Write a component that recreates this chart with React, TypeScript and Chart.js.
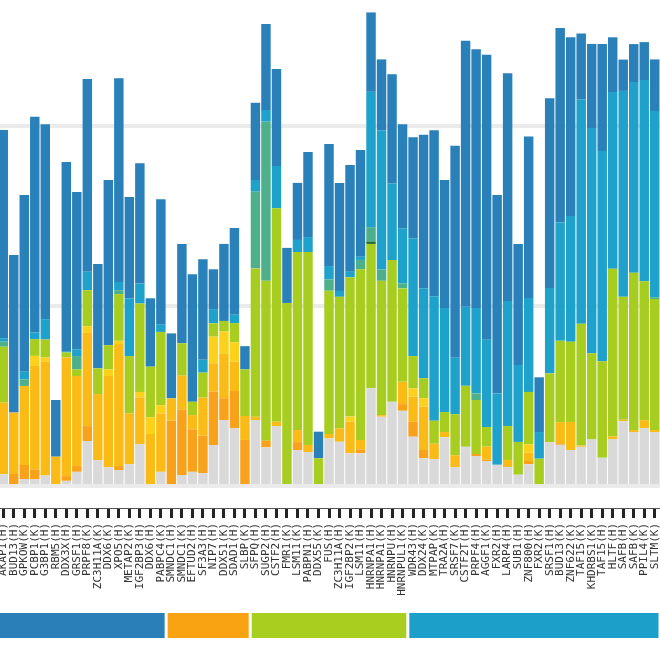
import React, { useEffect, useRef } from 'react';
import { Chart, registerables } from 'chart.js';

Chart.register(...registerables);

const labels = [
  'AKAP1(H)', 'BUD13(H)', 'GPKOW(K)', 'PCBP1(K)', 'G3BP1(H)', 'RBM5(H)', 'DDX3X(H)', 'GRSF1(H)', 'PRPF8(K)', 'ZC3H11A(K)',
  'DDX6(K)', 'XPO5(H)', 'METAP2(K)', 'IGF2BP3(H)', 'DDX6(H)', 'PABPC4(K)', 'SMNDC1(H)', 'SMNDC1(K)', 'EFTUD2(H)', 'SF3A3(H)',
  'NIP7(H)', 'DDX51(K)', 'SDAD1(H)', 'SLBP(K)', 'SFPQ(H)', 'SUGP2(H)', 'CSTF2(H)', 'FMR1(K)', 'LSM11(K)', 'PABPN1(H)',
  'DDX55(K)', 'FUS(H)', 'ZC3H11A(H)', 'IGF2BP2(K)', 'LSM11(H)', 'HNRNPA1(H)', 'HNRNPA1(K)', 'HNRNPU(H)', 'HNRNPUL1(K)', 'WDR43(H)',
  'DDX24(K)', 'MTPAP(K)', 'TRA2A(H)', 'SRSF7(K)', 'CSTF2T(H)', 'PRPF4(H)', 'AGGF1(K)', 'FXR2(H)', 'LARP4(H)', 'SUB1(H)',
  'ZNF800(H)', 'FXR2(K)', 'SRSF1(H)', 'BUD13(K)', 'ZNF622(K)', 'TAF15(K)', 'KHDRBS1(K)', 'TAF15(H)', 'HLTF(H)', 'SAFB(H)',
  'SAFB(K)', 'PPIL4(K)', 'SLTM(K)',
];

const grayVals = [6.5, 0, 3.9, 3.7, 5.9, 0, 2.9, 7.9, 25, 14.4, 10.4, 8.9, 12.2, 23.3, 0, 7.9, 0, 6.1, 7.9, 7.1,
  22.8, 36.7, 32.1, 0, 36.7, 21.5, 33.3, 0, 20, 18.9, 0, 26.5, 24.6, 18.2, 18.2, 54.3, 38.5, 46.8, 41.8, 27.4,
  15.4, 15, 27.1, 10.4, 21.8, 16.7, 13.9, 11.8, 10.6, 6.3, 12.1, 0, 24.4, 22.9, 20, 21.8, 25.9, 15.7, 26.1, 36.1,
  30, 32.2, 30];
const orangeVals = [0, 6.7, 7.8, 5.6, 0, 0, 2.6, 3.2, 8.3, 0, 0, 2.2, 0, 0, 0, 0, 36.3, 36.5, 23.6, 20.9,
  29.6, 12.1, 20.7, 25.6, 0, 3.7, 0, 0, 4.4, 0, 0, 0, 0, 0, 2.2, 0, 0, 0, 3.7, 8.3,
  4.6, 0, 0, 0, 0, 1.1, 0.8, 0, 0, 0, 1.8, 0, 0, 0.9, 0, 0, 0, 0, 0, 0,
  0, 0, 0];
const amberVals = [39.8, 34.1, 43.9, 57.4, 63.1, 16.3, 65.9, 50, 51.8, 36.7, 50.7, 67.8, 28.2, 25.9, 28.9, 32.4, 12.4, 18.7, 7.9, 21.1,
  15.8, 24.6, 16.3, 13.3, 1.8, 0, 2.4, 0, 6.7, 3.9, 0, 2.4, 7.4, 17.6, 5.2, 0, 0.9, 0, 12.4, 13.9,
  24.1, 8.5, 2.9, 6.7, 0, 0, 7.2, 0, 3.9, 0, 4.7, 0, 0, 11.7, 15.6, 0.7, 0, 0, 1.5, 0.7,
  1.1, 4.4, 1.1];
const yellowVals = [0, 0, 0, 5.6, 2.4, 0, 0, 0, 3.7, 0, 3.7, 1.8, 0, 3.1, 9.3, 4.6, 0, 0, 0, 0,
  14.8, 12.4, 10.8, 0, 0, 0, 0, 0, 0, 0, 0, 0, 0, 2.8, 0, 0, 0, 0, 0, 4.7,
  4.7, 0, 0, 0, 0, 0, 0, 0, 0, 0, 4.6, 0, 0, 0, 0, 0, 0, 0, 0, 0,
  0, 0, 0];
const limeVals = [31.1, 0, 0, 9.3, 10, 0, 2.8, 3.7, 20, 14.3, 13.5, 25.9, 31.8, 49.1, 28.1, 40.7, 0, 18, 7.4, 13.9,
  7.4, 5.9, 10.6, 25.9, 82.4, 88.9, 118.6, 101.7, 98.9, 107.2, 15.4, 79.6, 73.1, 77.4, 94.8, 80.2, 74.6, 78.7, 51.9, 17.9,
  11.1, 12.8, 11.1, 22.8, 33.9, 30, 10.9, 0, 18.9, 18.2, 29.1, 15.2, 38.2, 45.2, 44.6, 67.6, 47.8, 53.6, 93.1, 68.3,
  87.4, 77.2, 72.8];
const darkGreenVals = [0, 0, 0, 0, 0, 0, 0, 0, 0, 0, 0, 0, 0, 0, 0, 0, 0, 0, 0, 0,
  0, 0, 0, 0, 0, 0, 0, 0, 0, 0, 0, 0, 0, 0, 0, 1.3, 0, 0, 0, 0,
  0, 0, 0, 0, 0, 0, 0, 0, 0, 0, 0, 0, 0, 0, 0, 0, 0, 0, 0, 0,
  0, 0, 0];
const tealVals = [2.8, 0, 3.7, 0, 0, 0, 0, 7.4, 0, 0, 0, 2.2, 0, 0, 0, 0, 0, 0, 0, 0,
  0, 0, 0, 0, 42.6, 88.3, 0, 0, 0, 0, 0, 6.3, 0, 0, 5.2, 8, 6.3, 0, 2.8, 0,
  0, 0, 0, 0, 0, 3.7, 0, 0, 0, 0, 0, 0, 0, 0, 0, 0, 0, 0, 0, 0,
  0, 0, 0.9];
const cyanVals = [1.9, 0, 4.2, 3.7, 11.3, 0, 0.4, 3.7, 10.2, 0, 0, 4.6, 32.1, 11.1, 0, 4.3, 0, 0, 0, 7.1,
  7.9, 0, 4.6, 0, 6.5, 6.5, 23.5, 0, 6.7, 8.3, 0, 7.4, 3.3, 3.1, 1.8, 75.2, 77.4, 42.6, 30.6, 65.4,
  50, 69.1, 57.8, 31.3, 43.9, 47.4, 48.5, 39.7, 69.4, 42.8, 52.1, 14.8, 47.4, 65.7, 69.8, 124.6, 125.2, 116.8, 98.2, 114.4,
  105.9, 111.7, 103.5];
const blueVals = [115.7, 87.6, 98.2, 119.8, 108.3, 31.5, 105.4, 87.4, 107.1, 57.9, 91.7, 113.2, 56.3, 66.8, 38, 69.4, 36.1, 55.2, 70.9, 55.9,
  22.1, 42.8, 48.3, 12.9, 42.9, 47.8, 53.9, 30.6, 31.7, 47.2, 14.8, 67.8, 60, 59.3, 59.3, 44.1, 39.3, 60.7, 57.8, 56.1,
  85.2, 92.2, 71.1, 117.8, 147.8, 143.7, 158.3, 110.2, 126.5, 67.2, 89.8, 30.4, 105.4, 108, 99.3, 36.7, 46.7, 59.4, 30.4, 17.4,
  21.1, 21.1, 28.7];

const yTicks = [0, 100, 200];

// groups shown in the coloured band under the labels (first / last bar index)
const groupStart = [0, 16, 24, 39];
const groupEnd = [15, 23, 38, 62];
const groupColors = ['#2b7fb8', '#f9a312', '#a8cf1f', '#1ca0ca'];

const series = [
  { label: 'gray', data: grayVals, color: '#d9d9d9' },
  { label: 'orange', data: orangeVals, color: '#f8a11b' },
  { label: 'amber', data: amberVals, color: '#fbbb16' },
  { label: 'yellow', data: yellowVals, color: '#fbd11c' },
  { label: 'lime', data: limeVals, color: '#a6cd1f' },
  { label: 'darkgreen', data: darkGreenVals, color: '#1f6e2e' },
  { label: 'teal', data: tealVals, color: '#4db08b' },
  { label: 'cyan', data: cyanVals, color: '#1ea1ca' },
  { label: 'blue', data: blueVals, color: '#2a80b9' },
];

const bandPlugin = {
  id: 'groupBand',
  afterDraw(chart: any) {
    const { ctx, chartArea, scales } = chart;
    const x = scales.x;
    const half = (x.getPixelForValue(1) - x.getPixelForValue(0)) / 2;
    ctx.save();
    groupStart.forEach((s, k) => {
      const x1 = x.getPixelForValue(s) - half + 1.5;
      const x2 = x.getPixelForValue(groupEnd[k]) + half - 1.5;
      ctx.fillStyle = groupColors[k];
      ctx.fillRect(x1, chartArea.bottom + 105, x2 - x1, 25);
    });
    ctx.restore();
  },
};

const App = () => {
  const canvasRef = useRef<HTMLCanvasElement>(null);

  useEffect(() => {
    const ctx = canvasRef.current?.getContext('2d');
    if (!ctx) return;
    const chart = new Chart(ctx, {
      type: 'bar',
      data: {
        labels,
        datasets: series.map((s) => ({
          label: s.label,
          data: s.data,
          backgroundColor: s.color,
          borderWidth: 0,
          barPercentage: 0.9,
          categoryPercentage: 1,
        })),
      },
      options: {
        responsive: true,
        maintainAspectRatio: false,
        animation: false,
        layout: { padding: 0 },
        plugins: { legend: { display: false }, tooltip: { enabled: false } },
        scales: {
          x: {
            stacked: true,
            offset: true,
            grid: {
              display: true,
              drawOnChartArea: false,
              drawTicks: true,
              tickLength: 10,
              tickWidth: 3,
              tickColor: '#222',
              offset: false,
            },
            border: { display: true, color: '#555', width: 1 },
            ticks: {
              autoSkip: false,
              minRotation: 90,
              maxRotation: 90,
              padding: 5,
              color: '#333',
              font: { family: 'DejaVu Sans Mono', size: 11 },
            },
            afterFit: (scale: any) => {
              scale.height = 152;
              scale.paddingLeft = 0;
              scale.paddingRight = 0;
            },
          },
          y: {
            stacked: true,
            min: -12.2,
            max: 270,
            afterBuildTicks: (scale: any) => {
              scale.ticks = yTicks.map((v) => ({ value: v }));
            },
            grid: { color: '#ebebeb', lineWidth: 4, drawTicks: false },
            border: { display: false },
            ticks: { display: false },
          },
        },
      },
      plugins: [bandPlugin],
    });
    return () => chart.destroy();
  }, []);

  return (
    <div style={{ position: 'absolute', left: -2.5, top: 0, width: 662, height: 660 }}>
      <canvas ref={canvasRef} />
    </div>
  );
};

export default App;
